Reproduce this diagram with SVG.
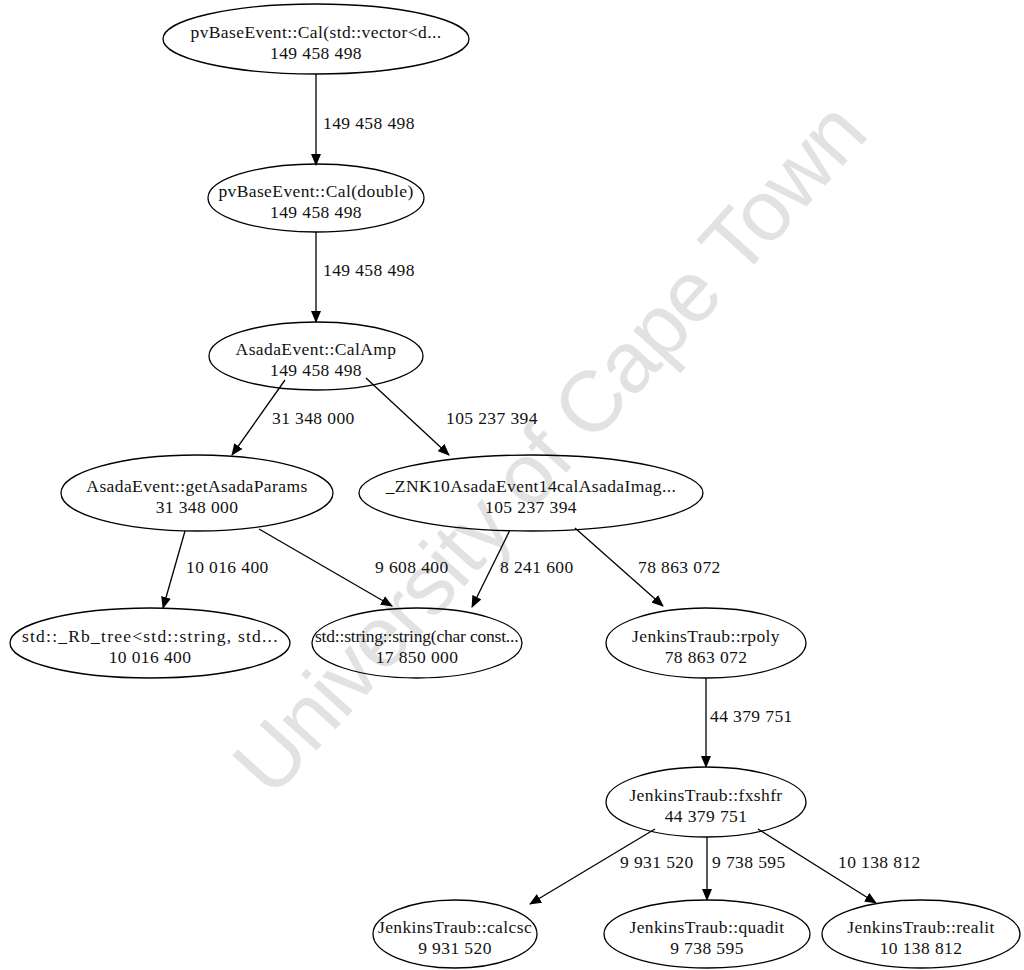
<svg xmlns="http://www.w3.org/2000/svg" width="1024" height="970" viewBox="0 0 1024 970">
<style>
.n ellipse{fill:none;stroke:#000;stroke-width:1.3}
text{font-family:"Liberation Serif","Times New Roman",serif;font-size:17.5px;letter-spacing:0.4px;fill:#111}
.n text{text-anchor:middle}
.e line{stroke:#000;stroke-width:1.3;marker-end:url(#ah)}
.wm{font-family:"Liberation Sans",Arial,sans-serif;font-size:86px;letter-spacing:0;fill:#e2e2e2}
</style>
<defs>
<marker id="ah" markerWidth="12" markerHeight="10" refX="11" refY="5" orient="auto" markerUnits="userSpaceOnUse">
<path d="M0,0 L12,5 L0,10 Z" fill="#000"/>
</marker>
</defs>
<rect width="1024" height="970" fill="#fff"/>
<text class="wm" x="0" y="0" textLength="895" lengthAdjust="spacing" transform="translate(272,800) rotate(-48)">University of Cape Town</text>
<g class="e" id="edges">
<line x1="316" y1="74" x2="316" y2="165"/>
<line x1="316" y1="232" x2="316" y2="322"/>
<line x1="285" y1="380" x2="232" y2="455"/>
<line x1="366" y1="378" x2="449" y2="455"/>
<line x1="185" y1="531" x2="163" y2="608"/>
<line x1="259" y1="529" x2="392" y2="606"/>
<line x1="510" y1="530" x2="472" y2="607"/>
<line x1="575" y1="528" x2="663" y2="606"/>
<line x1="706" y1="678" x2="706" y2="767"/>
<line x1="655" y1="829" x2="530" y2="904"/>
<line x1="707" y1="837" x2="707" y2="900"/>
<line x1="758" y1="829" x2="876" y2="903"/>
</g>
<g id="edge-labels">
<text x="323" y="129">149 458 498</text>
<text x="323" y="276">149 458 498</text>
<text x="272" y="424">31 348 000</text>
<text x="446" y="424">105 237 394</text>
<text x="186" y="573">10 016 400</text>
<text x="375" y="573">9 608 400</text>
<text x="500" y="573">8 241 600</text>
<text x="638" y="573">78 863 072</text>
<text x="710" y="722">44 379 751</text>
<text x="620" y="868">9 931 520</text>
<text x="712" y="868">9 738 595</text>
<text x="838" y="868">10 138 812</text>
</g>
<g class="n" id="n1"><ellipse cx="316" cy="39" rx="153" ry="35"/><text x="316" y="38">pvBaseEvent::Cal(std::vector&lt;d...</text><text x="316" y="59">149 458 498</text></g>
<g class="n" id="n2"><ellipse cx="316" cy="198" rx="108" ry="34"/><text x="316" y="197">pvBaseEvent::Cal(double)</text><text x="316" y="218">149 458 498</text></g>
<g class="n" id="n3"><ellipse cx="316" cy="356" rx="107" ry="34"/><text x="316" y="355">AsadaEvent::CalAmp</text><text x="316" y="376">149 458 498</text></g>
<g class="n" id="n4"><ellipse cx="197" cy="493" rx="136" ry="38"/><text x="197" y="492">AsadaEvent::getAsadaParams</text><text x="197" y="513">31 348 000</text></g>
<g class="n" id="n5"><ellipse cx="531" cy="493" rx="172" ry="38"/><text x="531" y="492">_ZNK10AsadaEvent14calAsadaImag...</text><text x="531" y="513">105 237 394</text></g>
<g class="n" id="n6"><ellipse cx="150" cy="643" rx="140" ry="35"/><text x="150" y="642" textLength="256" lengthAdjust="spacing">std::_Rb_tree&lt;std::string, std...</text><text x="150" y="663">10 016 400</text></g>
<g class="n" id="n7"><ellipse cx="417" cy="643" rx="105" ry="35"/><text x="417" y="642" textLength="204" lengthAdjust="spacing">std::string::string(char const...</text><text x="417" y="663">17 850 000</text></g>
<g class="n" id="n8"><ellipse cx="706" cy="643" rx="100" ry="35"/><text x="706" y="642">JenkinsTraub::rpoly</text><text x="706" y="663">78 863 072</text></g>
<g class="n" id="n9"><ellipse cx="706" cy="802" rx="100" ry="35"/><text x="706" y="801">JenkinsTraub::fxshfr</text><text x="706" y="822">44 379 751</text></g>
<g class="n" id="n10"><ellipse cx="455" cy="934" rx="82" ry="34"/><text x="455" y="933">JenkinsTraub::calcsc</text><text x="455" y="954">9 931 520</text></g>
<g class="n" id="n11"><ellipse cx="707" cy="934" rx="103" ry="34"/><text x="707" y="933">JenkinsTraub::quadit</text><text x="707" y="954">9 738 595</text></g>
<g class="n" id="n12"><ellipse cx="921" cy="934" rx="99" ry="34"/><text x="921" y="933">JenkinsTraub::realit</text><text x="921" y="954">10 138 812</text></g>
</svg>
